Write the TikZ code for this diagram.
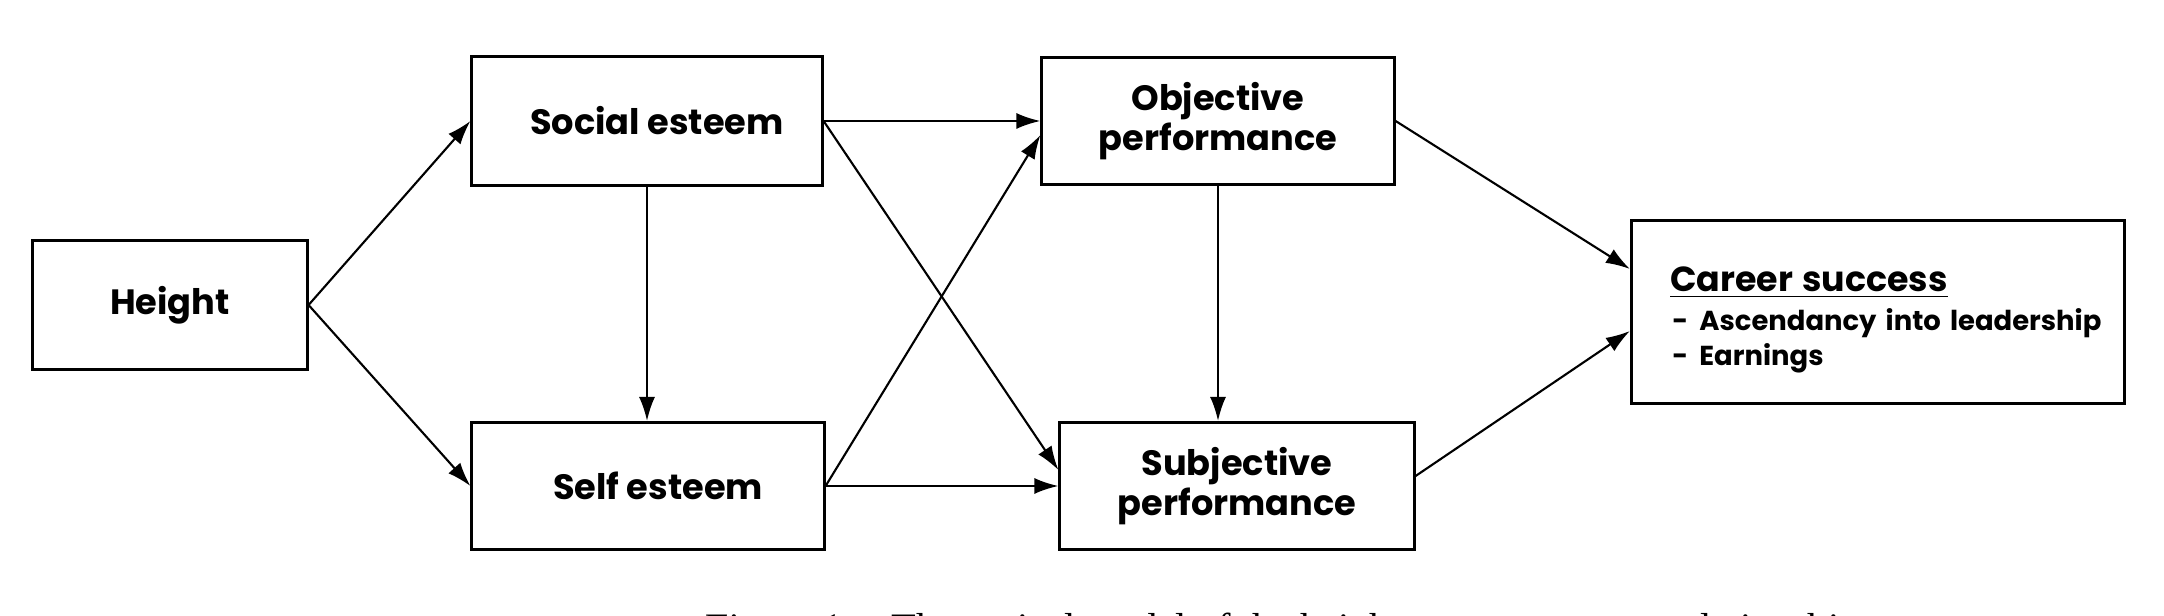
\documentclass[tikz,border=0pt]{standalone}
\usepackage{fontspec}
\setmainfont{Poppins}
\newfontfamily\capfont{Liberation Serif}
\usetikzlibrary{arrows.meta}

\tikzset{
  box/.style={draw, line width=.85pt, align=center, inner sep=0pt,
    font=\bfseries\fontsize{10}{11.6}\selectfont},
}

\begin{document}
\begin{tikzpicture}[>={Latex[length=2.4mm,width=1.6mm]}, x=0.01cm, y=-0.01cm, line width=.6pt]
\useasboundingbox (0,0) rectangle (2164,616);
% boxes
\node[box, minimum width=2.74cm, minimum height=1.28cm] (height) at (170,305) {Height};
\node[box, minimum width=3.5cm, minimum height=1.29cm] (social) at (647,121) {\hspace*{2mm}Social esteem};
\node[box, minimum width=3.52cm, minimum height=1.27cm] (self) at (648,486) {\hspace*{2mm}Self esteem};
\node[box, minimum width=3.52cm, minimum height=1.27cm] (obj) at (1218,121) {Objective\\performance};
\node[box, minimum width=3.54cm, minimum height=1.27cm] (subj) at (1237,486) {Subjective\\performance};
\node[box, align=left, text width=4.93cm, minimum height=1.82cm, inner xsep=0pt,
  font=\bfseries\fontsize{7.8}{10}\selectfont] (career) at (1878,312)
  {\rule{0pt}{4.1mm}\hspace*{3.9mm}\mbox{\fontsize{9.9}{11}\selectfont\underline{Career success}}\\[.4mm]
   \hspace*{4.1mm}\mbox{\makebox[2.7mm][l]{-}Ascendancy into leadership}\\
   \hspace*{4.1mm}\mbox{\makebox[2.7mm][l]{-}Earnings}};
% caption, cut off by the page edge
\node[anchor=north west, inner sep=0pt, font=\capfont\fontsize{11.5}{14}\selectfont] (cap) at (701,612)
  {\textit{Figure 1.}\quad Theoretical model of the height--career success relationship};
% paths
\draw[->] (height.east) -- (social.west);
\draw[->] (height.east) -- (self.west);
\draw[->] (social.south) -- (social.south |- self.north);
\draw[->] (social.east) -- (obj.west);
\draw[->] (social.east) -- ([yshift=1.6mm]subj.west);
\draw[->] (self.east) -- ([yshift=-1.4mm]obj.west);
\draw[->] (self.east) -- (subj.west);
\draw[->] (obj.south) -- (obj.south |- subj.north);
\draw[->] (obj.east) -- ([yshift=4.3mm]career.west);
\draw[->] ([yshift=1mm]subj.east) -- ([yshift=-1.9mm]career.west);
\end{tikzpicture}
\end{document}
